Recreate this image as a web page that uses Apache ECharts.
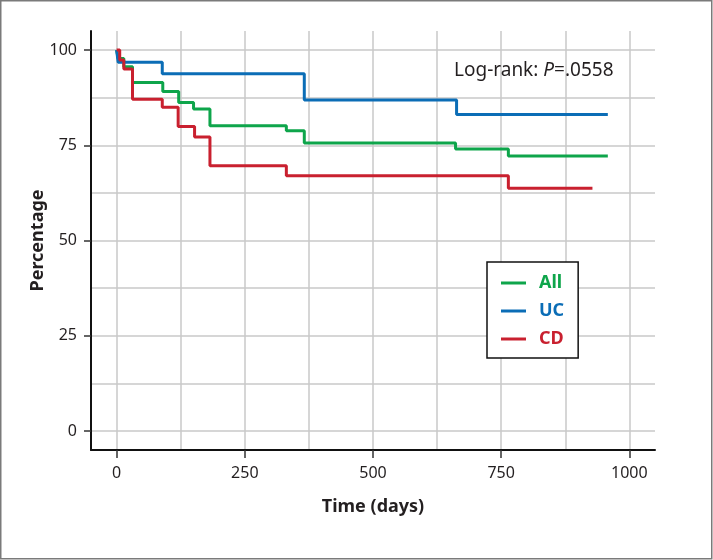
<!DOCTYPE html>
<html>
<head>
<meta charset="utf-8">
<script src="https://cdn.jsdelivr.net/npm/echarts@6/dist/echarts.min.js"></script>
<style>
html,body{margin:0;padding:0;background:#fff;}
#chart{width:713px;height:560px;}
</style>
</head>
<body>
<div id="chart"></div>
<script>
// ---- data ----
const seriesNames = ['All', 'UC', 'CD'];
const allTimes = [0, 3, 14, 31, 90, 121, 150, 182, 331, 366, 661, 764, 958];
const allValues = [100, 97.8, 95.6, 91.5, 89.1, 86.2, 84.5, 80.1, 78.8, 75.6, 74.0, 72.2, 72.2];
const ucTimes = [0, 3, 89, 366, 663, 958];
const ucValues = [100, 96.8, 93.8, 86.9, 83.1, 83.1];
const cdTimes = [0, 6, 14, 31, 89, 120, 152, 182, 331, 764, 928];
const cdValues = [100, 97.4, 95.0, 87.1, 85.0, 79.9, 77.2, 69.6, 67.0, 63.7, 63.7];
const xTickLabels = [0, 250, 500, 750, 1000];
const yTickLabels = [0, 25, 50, 75, 100];
const xGridValues = [0, 125, 250, 375, 500, 625, 750, 875, 1000];
const yGridValues = [0, 12.5, 25, 37.5, 50, 62.5, 75, 87.5, 100];
const annotation = 'Log-rank: ';
const pValue = '=.0558';

const colors = {All: '#0ea54b', UC: '#0b6db6', CD: '#c9202f'};
const FONT = '"Noto Sans", sans-serif';

function pairs(t, v) { return t.map((x, i) => [x, v[i]]); }

const chart = echarts.init(document.getElementById('chart'), null, {renderer: 'canvas'});

const mkSeries = (name, t, v) => ({
  name: name,
  type: 'line',
  step: 'end',
  xAxisIndex: 0,
  yAxisIndex: 0,
  data: pairs(t, v),
  showSymbol: false,
  symbol: 'none',
  lineStyle: {color: colors[name], width: 3},
  itemStyle: {color: colors[name]},
  z: 5
});

const option = {
  animation: false,
  backgroundColor: '#fff',
  grid: {left: 91, top: 31, right: 58, bottom: 110, containLabel: false, outerBoundsMode: 'none'},
  xAxis: [
    {
      type: 'value', min: -50, max: 1050,
      name: 'Time (days)', nameLocation: 'middle', nameGap: 48, nameMoveOverlap: false,
      nameTextStyle: {fontFamily: FONT, fontSize: 18, fontWeight: 'bold', color: '#231f20'},
      axisLine: {show: true, onZero: false, lineStyle: {color: '#111', width: 2}},
      axisTick: {show: true, length: 8, customValues: xTickLabels, lineStyle: {color: '#333', width: 1.5}},
      axisLabel: {customValues: xTickLabels, margin: 15, fontFamily: FONT, fontSize: 16, color: '#231f20',
                  formatter: v => String(v)},
      splitLine: {show: false}
    },
    {
      type: 'value', min: -50, max: 1050, position: 'bottom',
      axisLine: {show: false},
      axisTick: {show: false, customValues: xGridValues},
      axisLabel: {show: false},
      splitLine: {show: true, lineStyle: {color: '#c8c8c8', width: 1.5}}
    }
  ],
  yAxis: [
    {
      type: 'value', min: -5, max: 105,
      name: 'Percentage', nameLocation: 'middle', nameGap: 44, nameMoveOverlap: false,
      nameTextStyle: {fontFamily: FONT, fontSize: 18, fontWeight: 'bold', color: '#231f20'},
      axisLine: {show: true, onZero: false, lineStyle: {color: '#111', width: 2}},
      axisTick: {show: true, length: 7, customValues: yTickLabels, lineStyle: {color: '#333', width: 1.5}},
      axisLabel: {customValues: yTickLabels, margin: 14, fontFamily: FONT, fontSize: 16, color: '#231f20',
                  formatter: v => String(v)},
      splitLine: {show: false}
    },
    {
      type: 'value', min: -5, max: 105, position: 'left',
      axisLine: {show: false},
      axisTick: {show: false, customValues: yGridValues},
      axisLabel: {show: false},
      splitLine: {show: true, lineStyle: {color: '#c8c8c8', width: 1.5}}
    }
  ],
  legend: {
    orient: 'vertical',
    left: 487, top: 262,
    padding: [12, 14, 10, 14],
    itemGap: 10,
    itemWidth: 25, itemHeight: 3,
    icon: 'rect',
    borderColor: '#111', borderWidth: 1.5,
    backgroundColor: '#fff',
    selectedMode: false,
    textStyle: {fontFamily: FONT, fontSize: 18, fontWeight: 'bold', lineHeight: 18, padding: [0, 0, 0, 8]},
    data: seriesNames.map(n => ({name: n, textStyle: {color: colors[n]}}))
  },
  graphic: [
    {
      type: 'rect', z: 100, silent: true,
      shape: {x: 0.75, y: 0.75, width: 711, height: 558},
      style: {fill: 'none', stroke: '#7a7a7a', lineWidth: 1.5}
    },
    {
      type: 'text', left: 454, top: 61, z: 50,
      style: {
        text: '{a|' + annotation + '}{p|P}{a|' + pValue + '}',
        rich: {
          a: {fontFamily: FONT, fontSize: 19, fill: '#231f20'},
          p: {fontFamily: FONT, fontSize: 19, fontStyle: 'italic', fill: '#231f20'}
        }
      }
    }
  ],
  series: [
    mkSeries('All', allTimes, allValues),
    mkSeries('UC', ucTimes, ucValues),
    mkSeries('CD', cdTimes, cdValues)
  ]
};
chart.setOption(option);
</script>
</body>
</html>
